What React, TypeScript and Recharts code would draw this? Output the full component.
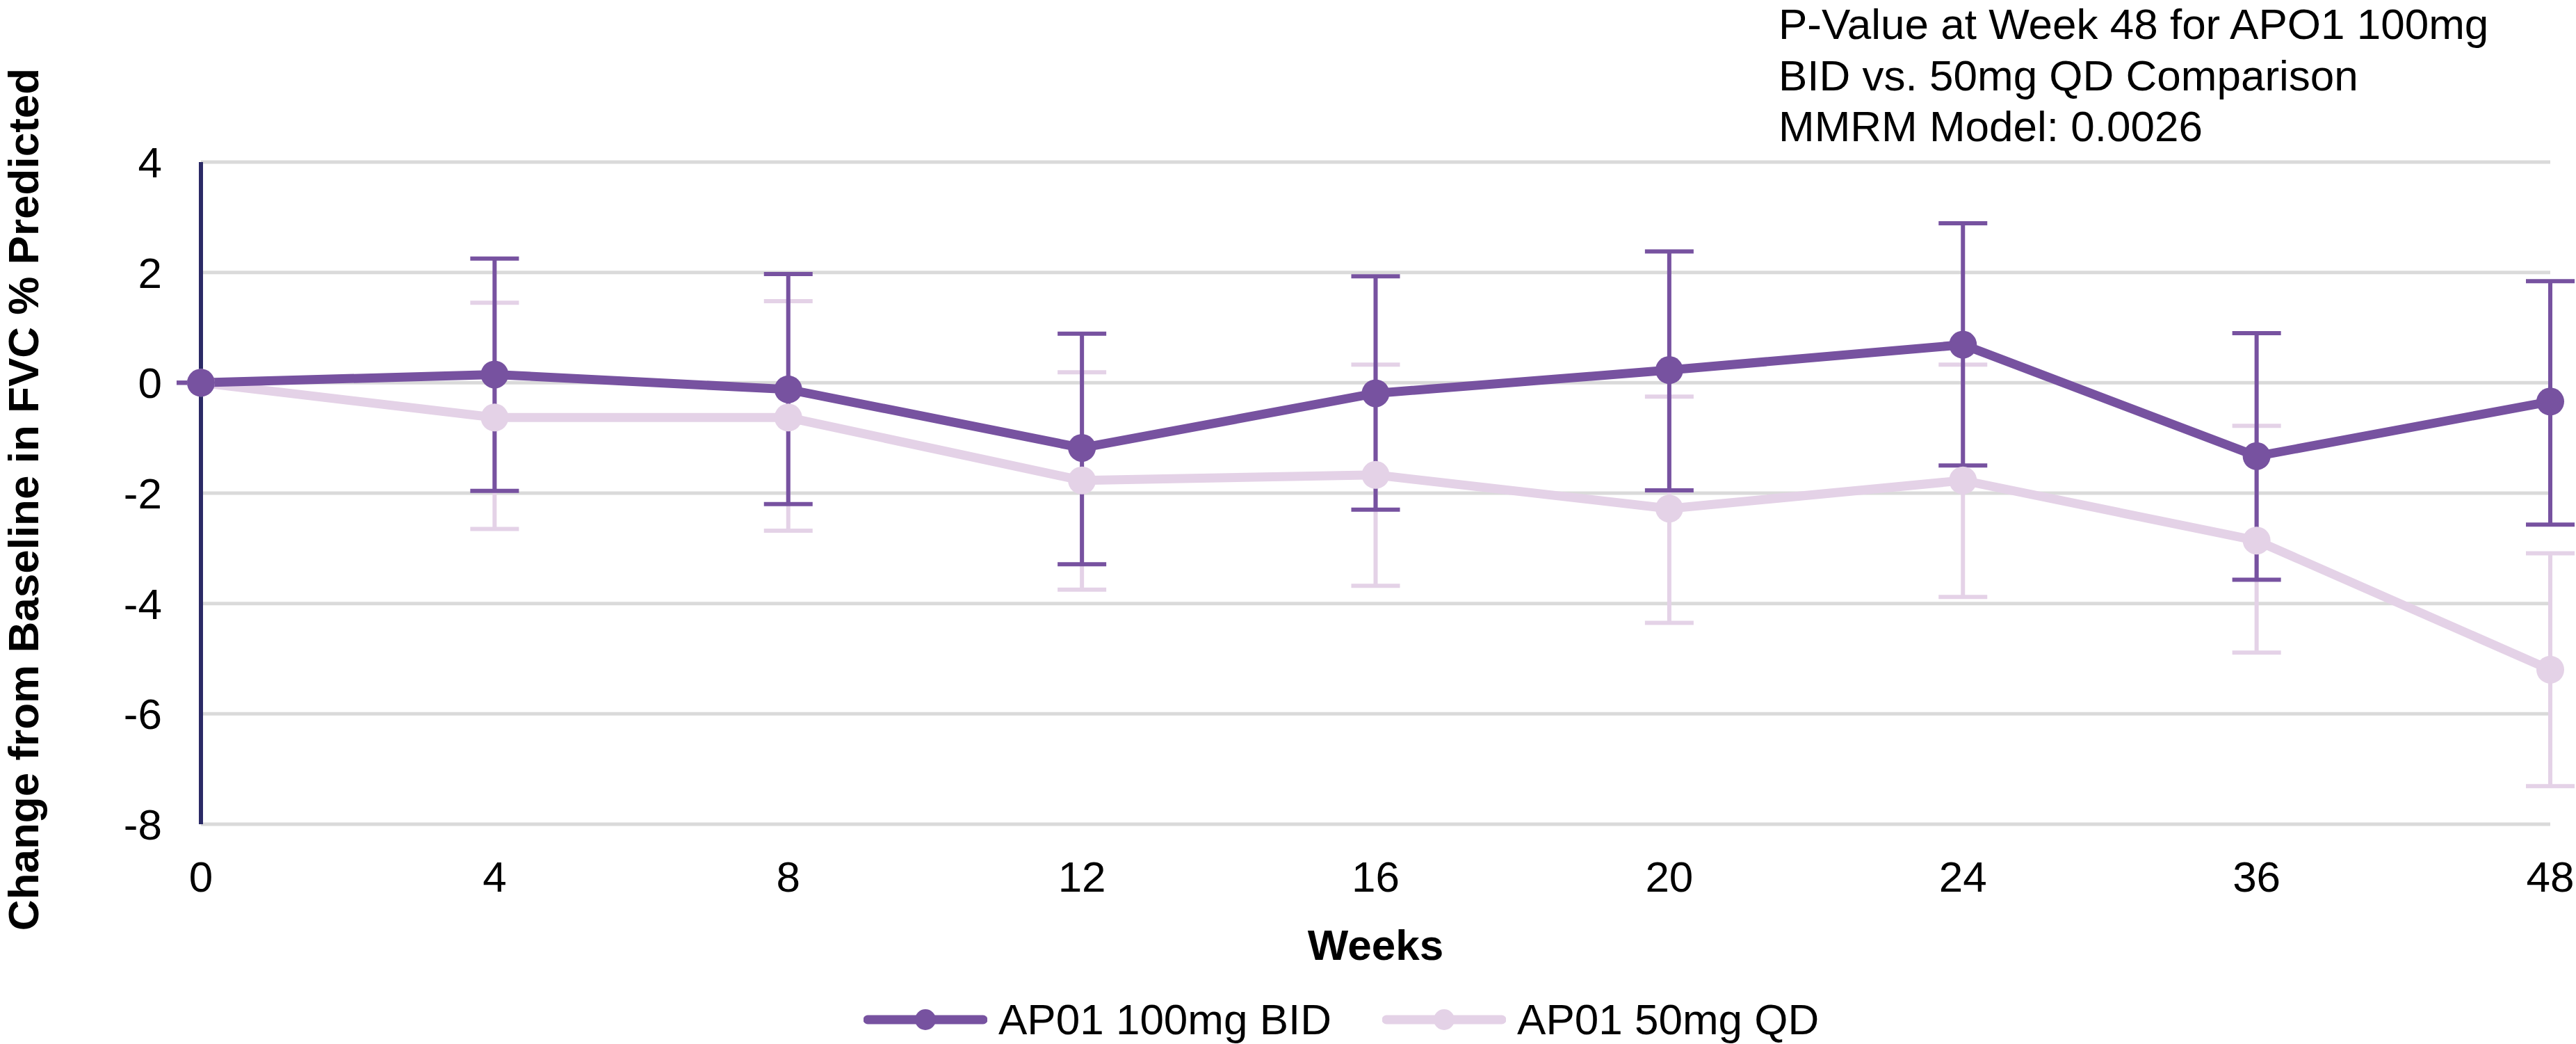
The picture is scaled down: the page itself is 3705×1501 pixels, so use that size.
import {
  CartesianGrid,
  ErrorBar,
  Label,
  Legend,
  Line,
  LineChart,
  XAxis,
  YAxis,
} from "recharts";

const WEEKS = ["0", "4", "8", "12", "16", "20", "24", "36", "48"];

// AP01 100mg BID: mean change and CI bounds
const BID_MEAN = [0, 0.15, -0.12, -1.18, -0.19, 0.23, 0.69, -1.33, -0.34];
const BID_LOWER = [0, -1.96, -2.2, -3.29, -2.3, -1.95, -1.5, -3.57, -2.57];
const BID_UPPER = [0, 2.25, 1.97, 0.89, 1.93, 2.38, 2.89, 0.9, 1.84];

// AP01 50mg QD
const QD_MEAN = [0, -0.63, -0.63, -1.77, -1.67, -2.28, -1.77, -2.86, -5.2];
const QD_LOWER = [0, -2.65, -2.68, -3.75, -3.68, -4.35, -3.88, -4.89, -7.31];
const QD_UPPER = [0, 1.45, 1.48, 0.19, 0.33, -0.25, 0.33, -0.78, -3.09];

const Y_TICKS = [-8, -6, -4, -2, 0, 2, 4];

const TITLE_LINES = [
  "P-Value at Week 48 for APO1 100mg",
  "BID vs. 50mg QD Comparison",
  "MMRM Model: 0.0026",
];

const BID_COLOR = "#7752a0";
const QD_COLOR = "#e4d2e7";
const AXIS_COLOR = "#2b2a66";
const GRID_COLOR = "#dadada";
const FONT = "'Liberation Sans', Arial, sans-serif";

const data = WEEKS.map((week, i) => ({
  week,
  bid: BID_MEAN[i],
  bidErr: [BID_MEAN[i] - BID_LOWER[i], BID_UPPER[i] - BID_MEAN[i]],
  qd: QD_MEAN[i],
  qdErr: [QD_MEAN[i] - QD_LOWER[i], QD_UPPER[i] - QD_MEAN[i]],
}));

const tickStyle = { fill: "#000", fontSize: 62, fontFamily: FONT };

function YTitle(props: any) {
  const vb = props.viewBox || { x: 0, y: 233, width: 289, height: 952 };
  const cx = vb.x + 55;
  const cy = vb.y + vb.height / 2 + 9;
  return (
    <text
      x={cx}
      y={cy}
      transform={`rotate(-90 ${cx} ${cy})`}
      textAnchor="middle"
      fontFamily={FONT}
      fontWeight="bold"
      fontSize={62}
      fill="#000"
    >
      Change from Baseline in FVC % Predicted
    </text>
  );
}

function XTitle(props: any) {
  const vb = props.viewBox || { x: 289, y: 1185, width: 3379, height: 246 };
  return (
    <text
      x={vb.x + vb.width / 2}
      y={vb.y + 195}
      textAnchor="middle"
      fontFamily={FONT}
      fontWeight="bold"
      fontSize={62}
      fill="#000"
    >
      Weeks
    </text>
  );
}

function LegendContent(props: any) {
  const items = props.payload || [];
  return (
    <div style={{ display: "flex", alignItems: "center", height: 70, fontFamily: FONT, fontSize: 62 }}>
      {items.map((item: any) => (
        <div key={item.value} style={{ display: "flex", alignItems: "center", marginRight: 73 }}>
          <svg width={178} height={40}>
            <line x1={6} y1={20} x2={172} y2={20} stroke={item.color} strokeWidth={13} strokeLinecap="round" />
            <circle cx={89} cy={20} r={15} fill={item.color} />
          </svg>
          <span style={{ marginLeft: 16, lineHeight: "70px" }}>{item.value}</span>
        </div>
      ))}
    </div>
  );
}

export default function App() {
  return (
    <div style={{ position: "absolute", left: 0, top: 0, width: 3705, height: 1501, background: "#fff" }}>
      <LineChart
        width={3705}
        height={1501}
        data={data}
        margin={{ top: 233, right: 37, bottom: 0, left: 0 }}
      >
        <CartesianGrid vertical={false} stroke={GRID_COLOR} strokeWidth={5} />
        <XAxis
          dataKey="week"
          axisLine={false}
          tickLine={false}
          tickSize={0}
          tickMargin={53}
          height={246}
          tick={tickStyle}
          interval={0}
        >
          <Label content={<XTitle />} />
        </XAxis>
        <YAxis
          type="number"
          domain={[-8, 4]}
          ticks={Y_TICKS}
          width={289}
          axisLine={{ stroke: AXIS_COLOR, strokeWidth: 6 }}
          tickLine={false}
          tickSize={0}
          tickMargin={56}
          tick={tickStyle}
        >
          <Label content={<YTitle />} />
        </YAxis>
        <Legend
          verticalAlign="bottom"
          height={70}
          content={<LegendContent />}
          wrapperStyle={{ left: 1242, width: 1500 }}
        />
        <Line
          name="AP01 50mg QD"
          dataKey="qd"
          stroke={QD_COLOR}
          strokeWidth={13}
          dot={{ r: 20, fill: QD_COLOR, stroke: QD_COLOR, strokeWidth: 0 }}
          activeDot={false}
          isAnimationActive={false}
          legendType="line"
        >
          <ErrorBar dataKey="qdErr" width={35} strokeWidth={6} stroke={QD_COLOR} direction="y" />
        </Line>
        <Line
          name="AP01 100mg BID"
          dataKey="bid"
          stroke={BID_COLOR}
          strokeWidth={13}
          dot={{ r: 20, fill: BID_COLOR, stroke: BID_COLOR, strokeWidth: 0 }}
          activeDot={false}
          isAnimationActive={false}
          legendType="line"
        >
          <ErrorBar dataKey="bidErr" width={35} strokeWidth={6} stroke={BID_COLOR} direction="y" />
        </Line>
      </LineChart>
      <div
        style={{
          position: "absolute",
          left: 2558,
          top: -2,
          fontFamily: FONT,
          fontSize: 62,
          lineHeight: "73.5px",
          color: "#000",
          whiteSpace: "nowrap",
        }}
      >
        {TITLE_LINES.map((line) => (
          <div key={line}>{line}</div>
        ))}
      </div>
    </div>
  );
}
